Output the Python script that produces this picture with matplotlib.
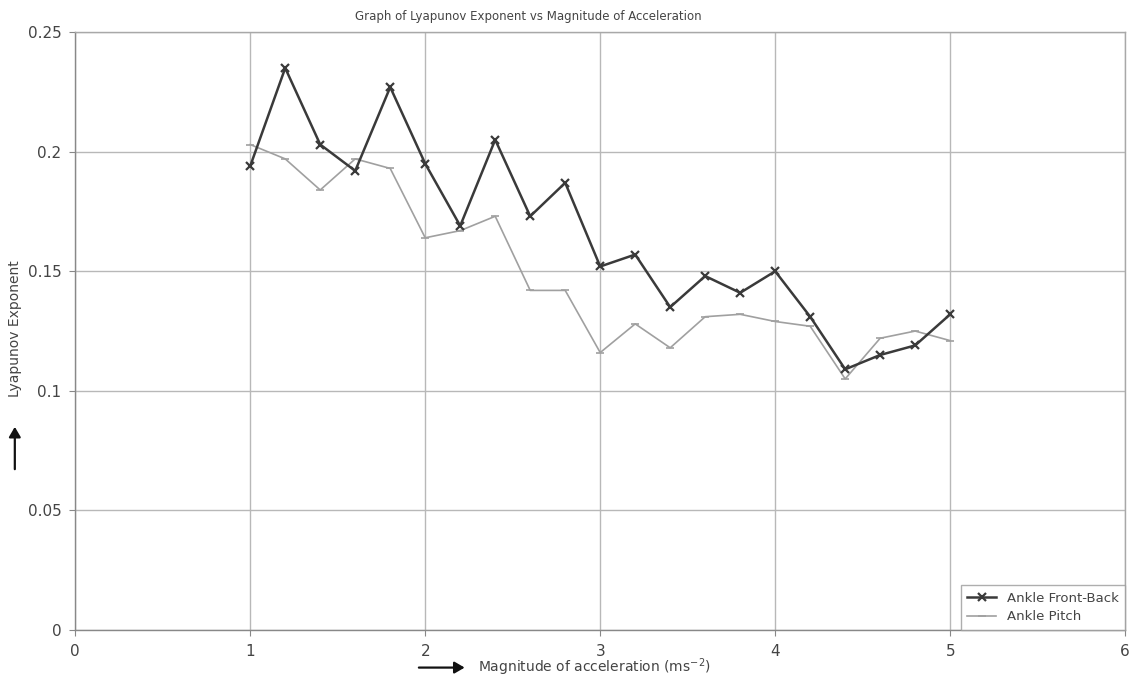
import matplotlib

matplotlib.use("Agg")

import matplotlib.pyplot as plt

ACCEL = [1.0, 1.2, 1.4, 1.6, 1.8, 2.0, 2.2, 2.4, 2.6, 2.8, 3.0,
         3.2, 3.4, 3.6, 3.8, 4.0, 4.2, 4.4, 4.6, 4.8, 5.0]
FRONT_BACK = [0.194, 0.235, 0.203, 0.192, 0.227, 0.195, 0.169, 0.205, 0.173, 0.187, 0.152,
              0.157, 0.135, 0.148, 0.141, 0.150, 0.131, 0.109, 0.115, 0.119, 0.132]
PITCH = [0.203, 0.197, 0.184, 0.197, 0.193, 0.164, 0.167, 0.173, 0.142, 0.142, 0.116,
         0.128, 0.118, 0.131, 0.132, 0.129, 0.127, 0.105, 0.122, 0.125, 0.121]
X_TICKS = [0, 1, 2, 3, 4, 5, 6]
Y_TICKS = [0, 0.05, 0.1, 0.15, 0.2, 0.25]
Y_TICK_LABELS = ["0", "0.05", "0.1", "0.15", "0.2", "0.25"]

TEXT = "#444444"
plt.rcParams["font.family"] = ["DejaVu Sans"]

fig = plt.figure(figsize=(11.4, 6.84), dpi=100)
ax = fig.add_axes([0.066, 0.079, 0.921, 0.874])

ax.plot(ACCEL, FRONT_BACK, color="#3a3a3a", lw=1.8, marker="x", ms=6, mew=1.6,
        label="Ankle Front-Back", zorder=3)
ax.plot(ACCEL, PITCH, color="#a0a0a0", lw=1.2, marker="_", ms=6, mew=1.2,
        label="Ankle Pitch", zorder=2)

ax.set_xlim(0, 6)
ax.set_ylim(0, 0.25)
ax.set_xticks(X_TICKS)
ax.set_yticks(Y_TICKS)
ax.set_yticklabels(Y_TICK_LABELS)
ax.grid(color="#b8b8b8", lw=1.0)
ax.set_axisbelow(True)
for s in ax.spines.values():
    s.set_color("#a8a8a8")
    s.set_linewidth(1.0)
ax.spines["left"].set_color("#888888")
ax.spines["bottom"].set_color("#888888")
ax.tick_params(colors="#888888", labelcolor=TEXT, labelsize=11, length=4, pad=6)

fig.text(0.463, 0.976, "Graph of Lyapunov Exponent vs Magnitude of Acceleration",
         ha="center", va="center", fontsize=8.5, color=TEXT)
fig.text(0.419, 0.024, r"Magnitude of acceleration (ms$^{-2}$)", ha="left", va="center",
         fontsize=10, color=TEXT)
fig.text(0.013, 0.52, "Lyapunov Exponent", rotation=90, ha="center", va="center",
         fontsize=10, color=TEXT)

# arrows next to axis labels
fig.add_artist(matplotlib.patches.FancyArrowPatch(
    (0.365, 0.024), (0.41, 0.024), transform=fig.transFigure,
    arrowstyle="-|>,head_length=6,head_width=3.5", color="#111111", lw=1.6))
fig.add_artist(matplotlib.patches.FancyArrowPatch(
    (0.013, 0.31), (0.013, 0.38), transform=fig.transFigure,
    arrowstyle="-|>,head_length=6,head_width=3.5", color="#111111", lw=1.6))

leg = ax.legend(loc="lower right", borderaxespad=0, fontsize=9.5, frameon=True,
                fancybox=False, edgecolor="#9a9a9a", handlelength=2.2,
                labelcolor=TEXT, borderpad=0.5, labelspacing=0.4)
leg.get_frame().set_linewidth(1.0)

fig.savefig("out.png", dpi=100)
